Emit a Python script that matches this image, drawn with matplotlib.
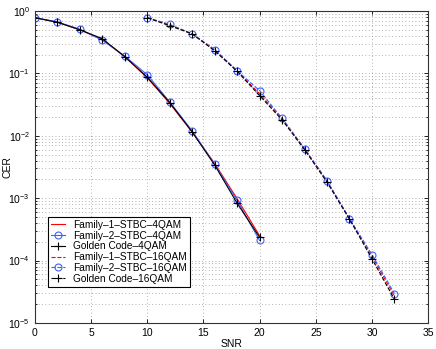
import matplotlib
matplotlib.use("Agg")
import matplotlib.pyplot as plt
from matplotlib.ticker import LogLocator, NullFormatter, FixedLocator

plt.rcParams['font.family'] = ['Liberation Sans', 'DejaVu Sans']

snr_4qam = [0, 2, 4, 6, 8, 10, 12, 14, 16, 18, 20]
fam1_4qam = [0.78, 0.66, 0.50, 0.35, 0.185, 0.085, 0.033, 0.0115, 0.0036, 0.00098, 0.00025]
fam2_4qam = [0.78, 0.67, 0.51, 0.34, 0.19, 0.095, 0.035, 0.012, 0.0035, 0.00092, 0.00021]
gold_4qam = [0.78, 0.66, 0.50, 0.36, 0.185, 0.087, 0.034, 0.0115, 0.0034, 0.00083, 0.000236]

snr_16qam = [10, 12, 14, 16, 18, 20, 22, 24, 26, 28, 30, 32]
fam1_16qam = [0.78, 0.60, 0.43, 0.24, 0.11, 0.047, 0.019, 0.0062, 0.0019, 0.00047, 0.000118, 0.000027]
fam2_16qam = [0.78, 0.61, 0.43, 0.24, 0.11, 0.053, 0.019, 0.0062, 0.0019, 0.00047, 0.000125, 0.0000296]
gold_16qam = [0.78, 0.58, 0.43, 0.23, 0.108, 0.044, 0.018, 0.006, 0.0018, 0.00046, 0.000107, 0.000024]

xticks = [0, 5, 10, 15, 20, 25, 30, 35]

fig = plt.figure(figsize=(4.36, 3.49), dpi=100)
ax = fig.add_axes([0.080, 0.0745, 0.902, 0.894])

lw = 0.8
ax.semilogy(snr_4qam, fam1_4qam, '-', color='red', lw=lw, label='Family–1–STBC–4QAM')
ax.semilogy(snr_4qam, fam2_4qam, '-o', color='#4060ff', lw=lw, ms=5, mfc='none', mew=0.8,
            label='Family–2–STBC–4QAM')
ax.semilogy(snr_4qam, gold_4qam, '-+', color='black', lw=lw, ms=6, mew=0.8,
            label='Golden Code–4QAM')
ax.semilogy(snr_16qam, fam1_16qam, '--', color='red', lw=lw, label='Family–1–STBC–16QAM')
ax.semilogy(snr_16qam, fam2_16qam, '--o', color='#4060ff', lw=lw, ms=5, mfc='none', mew=0.8,
            label='Family–2–STBC–16QAM')
ax.semilogy(snr_16qam, gold_16qam, '--+', color='black', lw=lw, ms=6, mew=0.8,
            label='Golden Code–16QAM')

ax.set_xlim(0, 35)
ax.set_ylim(1e-5, 1)
ax.xaxis.set_major_locator(FixedLocator(xticks))
ax.yaxis.set_major_locator(LogLocator(base=10, numticks=10))
ax.yaxis.set_minor_locator(LogLocator(base=10, subs=range(2, 10), numticks=20))
ax.yaxis.set_minor_formatter(NullFormatter())

gkw = dict(linestyle=(0, (1, 3)), color='#999999', lw=0.6)
ax.grid(True, which='major', **gkw)
ax.grid(True, which='minor', axis='y', **gkw)
ax.tick_params(labelsize=7.5, direction='in', which='both', top=True, right=True, length=3,
               width=0.6)
ax.tick_params(which='minor', length=1.5)
for s in ax.spines.values():
    s.set_linewidth(0.8)
    s.set_color('#333333')

ax.set_xlabel('SNR', fontsize=7.5, labelpad=1)
ax.set_ylabel('CER', fontsize=7.5)
ax.yaxis.set_label_coords(-0.058, 0.5)

leg = ax.legend(loc='lower left', bbox_to_anchor=(0.033, 0.116), fontsize=7.3, frameon=True,
                fancybox=False, edgecolor='black', framealpha=1, borderpad=0.3,
                labelspacing=0.08, handlelength=1.4, handletextpad=0.8, borderaxespad=0)
leg.get_frame().set_linewidth(0.8)

fig.savefig('out.png', dpi=100)
